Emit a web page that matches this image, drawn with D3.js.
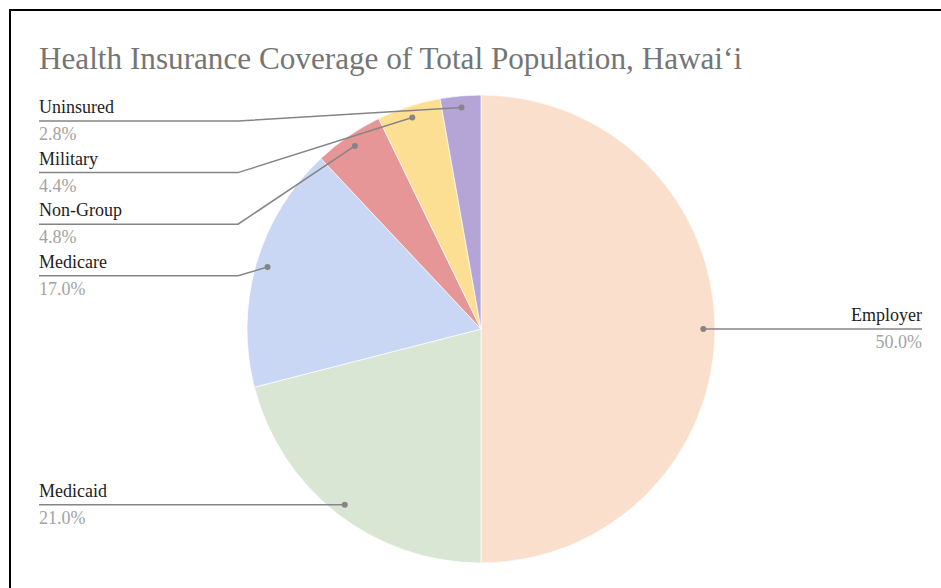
<!DOCTYPE html>
<html>
	<head>
		<meta charset="UTF-8" />
		<title>Health Insurance Coverage of Total Population, Hawaiʻi</title>
		<script src="https://cdn.jsdelivr.net/npm/d3@7"></script>
		<style>
			body {
				margin: 0;
				background: #fff;
			}
			svg {
				display: block;
				font-family: "Liberation Serif", "Times New Roman", serif;
			}
		</style>
	</head>
	<body>
		<svg width="941" height="588"></svg>

		<script>
			const categories = ["Employer", "Medicaid", "Medicare", "Non-Group", "Military", "Uninsured"];
			const shares = [50.0, 21.0, 17.0, 4.8, 4.4, 2.8];
			const colors = ["#f9dfcc", "#d9e6d4", "#c9d7f4", "#e69696", "#fddf94", "#b4a5d6"];

			const data = categories.map((c, i) => ({ name: c, value: shares[i], color: colors[i] }));

			const svg = d3.select("svg");

			// frame
			svg
				.append("rect")
				.attr("x", 10)
				.attr("y", 10)
				.attr("width", 960)
				.attr("height", 620)
				.attr("fill", "none")
				.attr("stroke", "#000")
				.attr("stroke-width", 2);

			svg
				.append("text")
				.attr("x", 39)
				.attr("y", 69)
				.attr("fill", "#757575")
				.style("font-size", "31.2px")
				.text("Health Insurance Coverage of Total Population, Hawaiʻi");

			const cx = 481,
				cy = 329,
				radius = 234;

			const pie = d3.pie().sort(null).value((d) => d.value);
			const arcs = pie(data);
			const arc = d3.arc().innerRadius(0).outerRadius(radius);
			const dotArc = d3.arc().innerRadius(radius * 0.95).outerRadius(radius * 0.95);

			const g = svg.append("g").attr("transform", `translate(${cx},${cy})`);

			g.selectAll("path.slice")
				.data(arcs)
				.enter()
				.append("path")
				.attr("class", "slice")
				.attr("d", arc)
				.attr("fill", (d) => d.data.color)
				.attr("stroke", "#fff")
				.attr("stroke-width", 0.7);

			// label layout
			arcs.forEach((d) => {
				const mid = (d.startAngle + d.endAngle) / 2;
				const p = dotArc.centroid({ startAngle: mid, endAngle: mid });
				d.dot = [cx + p[0], cy + p[1]];
				d.left = mid > Math.PI;
			});

			const leftX = 39,
				bendX = 238,
				rightX = 922,
				gap = 51.6,
				minTop = 121;

			const leftArcs = arcs.filter((d) => d.left).sort((a, b) => a.dot[1] - b.dot[1]);
			let prev = -Infinity;
			leftArcs.forEach((d) => {
				d.ly = Math.max(d.dot[1], prev + gap, minTop);
				prev = d.ly;
			});
			arcs.filter((d) => !d.left).forEach((d) => (d.ly = d.dot[1]));

			const labels = svg.selectAll("g.label").data(arcs).enter().append("g").attr("class", "label");

			labels
				.append("path")
				.attr("fill", "none")
				.attr("stroke", "#858585")
				.attr("stroke-width", 1.5)
				.attr("d", (d) =>
					d.left
						? d3.line()([[leftX, d.ly], [bendX, d.ly], d.dot])
						: d3.line()([d.dot, [rightX, d.ly]])
				);

			labels
				.append("circle")
				.attr("cx", (d) => d.dot[0])
				.attr("cy", (d) => d.dot[1])
				.attr("r", 3)
				.attr("fill", "#858585");

			labels
				.append("text")
				.attr("x", (d) => (d.left ? leftX : rightX))
				.attr("y", (d) => d.ly - 8)
				.attr("text-anchor", (d) => (d.left ? "start" : "end"))
				.attr("fill", "#222")
				.style("font-size", "18px")
				.text((d) => d.data.name);

			labels
				.append("text")
				.attr("x", (d) => (d.left ? leftX : rightX))
				.attr("y", (d) => d.ly + 19)
				.attr("text-anchor", (d) => (d.left ? "start" : "end"))
				.attr("fill", "#a3a3a3")
				.style("font-size", "18px")
				.text((d) => d3.format(".1f")(d.data.value) + "%");
		</script>
	</body>
</html>
